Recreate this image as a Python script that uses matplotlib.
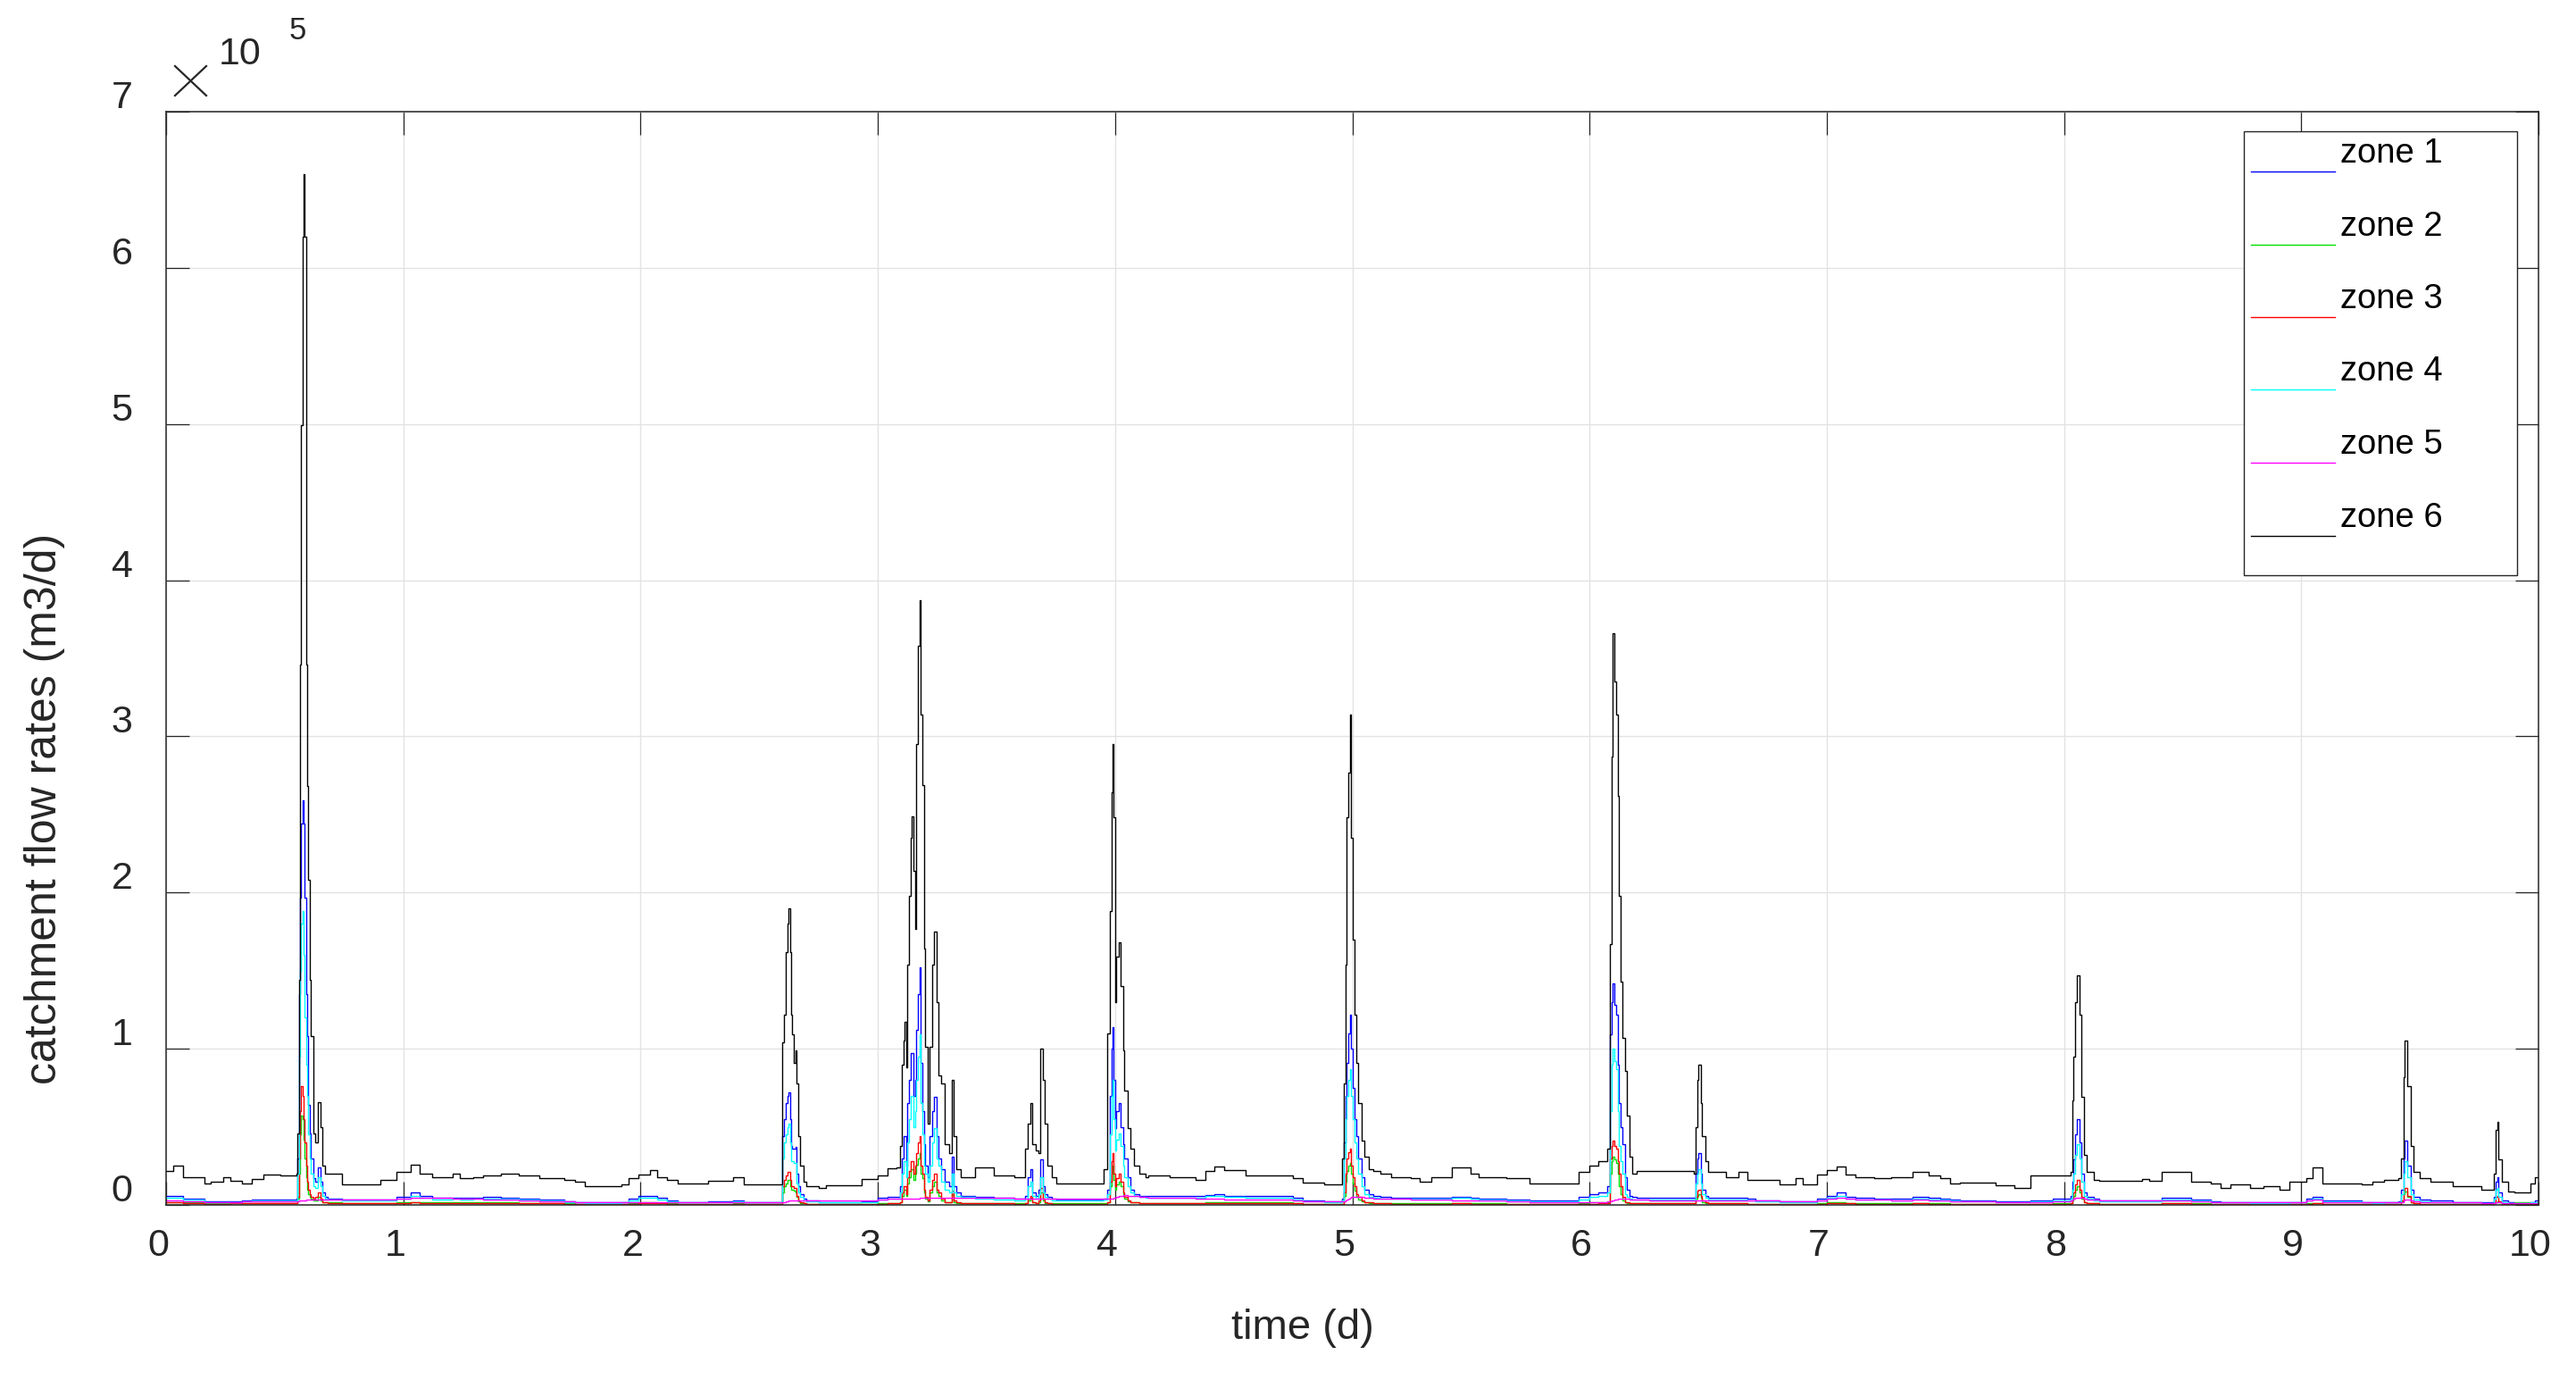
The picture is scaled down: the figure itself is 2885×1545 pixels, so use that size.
import numpy as np
import matplotlib
matplotlib.use("Agg")
import matplotlib.pyplot as plt
from matplotlib.lines import Line2D
from matplotlib.patches import Rectangle
import matplotlib.transforms as mtrans

plt.rcParams['font.family'] = ['Liberation Sans', 'DejaVu Sans']

# ---------------- data (flow rates in units of 1e5 m3/d) ----------------
SCALE = 1e5

time_d = [
    0, 0.03, 0.07, 0.16, 0.19, 0.24, 0.27, 0.32, 0.36, 0.41, 0.48,
    0.55, 0.555, 0.56, 0.565, 0.57, 0.575, 0.58, 0.585, 0.59, 0.595, 0.60, 0.605, 0.61, 0.62, 0.63, 0.64, 0.65, 0.66, 0.67, 0.68,
    0.69, 0.74, 0.905, 0.97, 1.03, 1.07, 1.12, 1.207, 1.24, 1.293, 1.336, 1.41, 1.487, 1.573, 1.68, 1.724, 1.767, 1.918, 1.95, 1.99, 2.04, 2.07, 2.11, 2.155, 2.284, 2.39, 2.435, 2.52,
    2.59, 2.597, 2.605, 2.612, 2.618, 2.624, 2.63, 2.635, 2.64, 2.645, 2.652, 2.659, 2.665, 2.674, 2.687, 2.70, 2.75,
    2.78, 2.93, 3.0, 3.04,
    3.08, 3.094, 3.10, 3.107, 3.113, 3.119, 3.125, 3.132, 3.138, 3.144, 3.15, 3.157, 3.163, 3.169, 3.175, 3.182, 3.188, 3.194, 3.20, 3.21, 3.219, 3.228, 3.238, 3.247, 3.254, 3.266, 3.282, 3.301, 3.311, 3.32, 3.332, 3.351,
    3.41, 3.49, 3.576,
    3.62, 3.633, 3.643, 3.652, 3.665, 3.677, 3.685, 3.695, 3.704, 3.714, 3.733, 3.752,
    3.927, 3.952,
    3.965, 3.977, 3.984, 3.99, 3.994, 3.999, 4.006, 4.015, 4.025, 4.034, 4.04, 4.053, 4.065, 4.078, 4.103, 4.128,
    4.14, 4.23, 4.34, 4.38, 4.42, 4.46, 4.55, 4.75, 4.79, 4.88,
    4.955, 4.964, 4.97, 4.976, 4.982, 4.989, 4.995, 5.001, 5.008, 5.018, 5.026, 5.039, 5.051, 5.07, 5.089, 5.12,
    5.164, 5.246, 5.284, 5.334, 5.42, 5.50, 5.534, 5.65, 5.748, 5.955, 5.999, 6.036, 6.074,
    6.087, 6.093, 6.097, 6.105, 6.112, 6.118, 6.124, 6.13, 6.139, 6.149, 6.156, 6.168, 6.181, 6.20, 6.25,
    6.438, 6.446, 6.453, 6.46, 6.469, 6.475, 6.488, 6.50, 6.576, 6.626, 6.664,
    6.70, 6.80, 6.87, 6.90, 6.96, 7.0, 7.04, 7.08, 7.12, 7.20, 7.27, 7.36, 7.43, 7.48, 7.52, 7.56, 7.71, 7.79, 7.86, 7.952,
    8.028, 8.034, 8.04, 8.048, 8.055, 8.065, 8.072, 8.083, 8.096, 8.124, 8.15,
    8.29, 8.33, 8.36, 8.413, 8.537, 8.62, 8.66, 8.70, 8.785, 8.84, 8.91, 8.95, 9.02, 9.047, 9.088, 9.253, 9.30, 9.35,
    9.41, 9.419, 9.43, 9.437, 9.446, 9.46, 9.474, 9.50, 9.543,
    9.64, 9.76, 9.812, 9.818, 9.825, 9.832, 9.846, 9.873, 9.90, 9.965, 9.985, 10.0,
]

zone1 = [
    0.057, 0.055, 0.04, 0.025, 0.025, 0.025, 0.025, 0.028, 0.034, 0.036, 0.036,
    0.04, 0.3, 1.35, 1.97, 2.44, 2.59, 2.44, 1.97, 1.35, 1.08, 0.64, 0.46, 0.3, 0.17, 0.15, 0.24, 0.15, 0.08, 0.05, 0.04,
    0.04, 0.035, 0.035, 0.05, 0.082, 0.06, 0.045, 0.048, 0.045, 0.048, 0.05, 0.048, 0.04, 0.035, 0.025, 0.02, 0.015, 0.02, 0.04, 0.06, 0.06, 0.045, 0.03, 0.02, 0.025, 0.03, 0.02, 0.02,
    0.02, 0.44, 0.55, 0.65, 0.7, 0.72, 0.55, 0.38, 0.36, 0.36, 0.37, 0.2, 0.12, 0.07, 0.04, 0.03, 0.02,
    0.02, 0.025, 0.045, 0.05,
    0.05, 0.12, 0.3, 0.44, 0.44, 0.25, 0.65, 0.8, 0.97, 0.97, 0.7, 0.8, 1.12, 1.35, 1.52, 0.91, 0.6, 0.39, 0.25, 0.18, 0.44, 0.6, 0.69, 0.44, 0.3, 0.23, 0.15, 0.12, 0.31, 0.12, 0.08, 0.06,
    0.05, 0.045, 0.04,
    0.06, 0.18, 0.23, 0.08, 0.06, 0.1, 0.29, 0.12, 0.07, 0.05, 0.04, 0.035,
    0.035, 0.04,
    0.1, 0.7, 1.0, 1.14, 0.8, 0.49, 0.6, 0.65, 0.5, 0.39, 0.3, 0.18, 0.1, 0.07, 0.06, 0.055,
    0.055, 0.055, 0.055, 0.065, 0.067, 0.06, 0.055, 0.045, 0.03, 0.025,
    0.04, 0.4, 0.7, 0.91, 1.1, 1.22, 1.0, 0.75, 0.55, 0.44, 0.3, 0.18, 0.1, 0.07, 0.055, 0.05,
    0.045, 0.045, 0.045, 0.045, 0.05, 0.045, 0.04, 0.035, 0.03, 0.05, 0.07, 0.08, 0.12,
    1.09, 1.3, 1.42, 1.28, 1.22, 0.9, 0.65, 0.5, 0.39, 0.18, 0.1, 0.06, 0.05, 0.045, 0.045,
    0.045, 0.2, 0.3, 0.33, 0.2, 0.1, 0.06, 0.045, 0.045, 0.045, 0.04,
    0.03, 0.025, 0.023, 0.023, 0.04, 0.057, 0.082, 0.05, 0.045, 0.04, 0.038, 0.05, 0.045, 0.04, 0.035, 0.03, 0.025, 0.023, 0.03, 0.04,
    0.06, 0.15, 0.29, 0.45, 0.55, 0.4, 0.2, 0.08, 0.05, 0.04, 0.03,
    0.03, 0.03, 0.03, 0.045, 0.035, 0.025, 0.02, 0.02, 0.018, 0.018, 0.015, 0.02, 0.04, 0.053, 0.03, 0.02, 0.018, 0.02,
    0.025, 0.1, 0.3, 0.41, 0.25, 0.1, 0.05, 0.035, 0.03,
    0.02, 0.015, 0.05, 0.15, 0.18, 0.08, 0.03, 0.015, 0.012, 0.02, 0.03, 0.03,
]

zone2 = [
    0.02, 0.02, 0.015, 0.01, 0.01, 0.01, 0.012, 0.012, 0.012, 0.012, 0.012,
    0.012, 0.04, 0.2, 0.45, 0.57, 0.55, 0.42, 0.3, 0.18, 0.1, 0.07, 0.05, 0.04, 0.03, 0.03, 0.05, 0.03, 0.02, 0.015, 0.015,
    0.015, 0.012, 0.012, 0.015, 0.02, 0.018, 0.015, 0.018, 0.015, 0.015, 0.016, 0.016, 0.014, 0.012, 0.01, 0.008, 0.006, 0.006, 0.01, 0.015, 0.015, 0.012, 0.01, 0.008, 0.008, 0.01, 0.008, 0.008,
    0.008, 0.08, 0.12, 0.14, 0.16, 0.16, 0.12, 0.1, 0.1, 0.09, 0.08, 0.05, 0.025, 0.012, 0.01, 0.008, 0.008,
    0.008, 0.008, 0.01, 0.012,
    0.012, 0.02, 0.06, 0.1, 0.1, 0.06, 0.14, 0.18, 0.23, 0.23, 0.16, 0.2, 0.26, 0.3, 0.33, 0.2, 0.17, 0.08, 0.04, 0.025, 0.08, 0.12, 0.15, 0.08, 0.06, 0.03, 0.015, 0.015, 0.07, 0.02, 0.012, 0.01,
    0.012, 0.012, 0.01,
    0.01, 0.03, 0.045, 0.015, 0.01, 0.02, 0.08, 0.03, 0.012, 0.01, 0.01, 0.01,
    0.01, 0.01,
    0.015, 0.12, 0.2, 0.25, 0.16, 0.1, 0.13, 0.15, 0.12, 0.07, 0.04, 0.025, 0.018, 0.015, 0.012, 0.012,
    0.012, 0.012, 0.012, 0.018, 0.02, 0.018, 0.015, 0.01, 0.008, 0.006,
    0.006, 0.06, 0.15, 0.22, 0.25, 0.27, 0.2, 0.14, 0.09, 0.05, 0.035, 0.025, 0.015, 0.012, 0.01, 0.01,
    0.01, 0.01, 0.01, 0.01, 0.012, 0.01, 0.01, 0.008, 0.006, 0.01, 0.015, 0.015, 0.02,
    0.2, 0.28, 0.31, 0.29, 0.27, 0.2, 0.12, 0.07, 0.03, 0.015, 0.012, 0.01, 0.01, 0.01, 0.01,
    0.01, 0.04, 0.06, 0.07, 0.045, 0.02, 0.012, 0.01, 0.01, 0.01, 0.008,
    0.008, 0.008, 0.008, 0.008, 0.012, 0.015, 0.018, 0.012, 0.01, 0.01, 0.01, 0.012, 0.01, 0.01, 0.008, 0.008, 0.006, 0.006, 0.008, 0.01,
    0.01, 0.03, 0.06, 0.1, 0.12, 0.08, 0.04, 0.015, 0.01, 0.01, 0.008,
    0.008, 0.008, 0.008, 0.012, 0.01, 0.008, 0.007, 0.007, 0.006, 0.008, 0.006, 0.006, 0.01, 0.012, 0.008, 0.006, 0.008, 0.008,
    0.008, 0.025, 0.07, 0.086, 0.05, 0.018, 0.01, 0.008, 0.008,
    0.008, 0.006, 0.01, 0.02, 0.025, 0.015, 0.01, 0.012, 0.015, 0.01, 0.012, 0.012,
]

zone3 = [
    0.015, 0.015, 0.01, 0.008, 0.008, 0.008, 0.01, 0.01, 0.01, 0.01, 0.01,
    0.01, 0.05, 0.3, 0.6, 0.76, 0.7, 0.55, 0.4, 0.25, 0.15, 0.1, 0.07, 0.05, 0.04, 0.05, 0.08, 0.04, 0.02, 0.015, 0.012,
    0.012, 0.01, 0.01, 0.012, 0.015, 0.014, 0.012, 0.013, 0.012, 0.012, 0.012, 0.012, 0.011, 0.01, 0.008, 0.007, 0.006, 0.006, 0.008, 0.01, 0.01, 0.009, 0.008, 0.007, 0.007, 0.008, 0.007, 0.007,
    0.007, 0.12, 0.16, 0.19, 0.21, 0.21, 0.16, 0.12, 0.12, 0.11, 0.11, 0.06, 0.03, 0.015, 0.01, 0.008, 0.007,
    0.007, 0.007, 0.008, 0.01,
    0.01, 0.02, 0.08, 0.12, 0.12, 0.07, 0.18, 0.22, 0.28, 0.28, 0.2, 0.25, 0.33, 0.4, 0.44, 0.25, 0.2, 0.1, 0.05, 0.03, 0.1, 0.16, 0.2, 0.1, 0.08, 0.04, 0.02, 0.02, 0.09, 0.03, 0.015, 0.01,
    0.01, 0.01, 0.008,
    0.01, 0.04, 0.06, 0.02, 0.012, 0.03, 0.11, 0.04, 0.015, 0.01, 0.008, 0.008,
    0.008, 0.008,
    0.02, 0.15, 0.28, 0.33, 0.2, 0.12, 0.17, 0.2, 0.15, 0.08, 0.05, 0.03, 0.02, 0.015, 0.012, 0.012,
    0.01, 0.01, 0.01, 0.012, 0.014, 0.013, 0.011, 0.009, 0.007, 0.006,
    0.006, 0.08, 0.2, 0.3, 0.34, 0.36, 0.25, 0.18, 0.12, 0.07, 0.05, 0.03, 0.02, 0.015, 0.012, 0.01,
    0.008, 0.008, 0.008, 0.008, 0.01, 0.008, 0.008, 0.007, 0.005, 0.006, 0.008, 0.01, 0.012,
    0.3, 0.38, 0.41, 0.38, 0.36, 0.28, 0.2, 0.12, 0.05, 0.02, 0.015, 0.012, 0.01, 0.01, 0.01,
    0.01, 0.05, 0.09, 0.1, 0.06, 0.03, 0.015, 0.01, 0.01, 0.01, 0.008,
    0.007, 0.006, 0.006, 0.006, 0.008, 0.01, 0.012, 0.01, 0.008, 0.008, 0.008, 0.01, 0.008, 0.008, 0.007, 0.006, 0.005, 0.005, 0.006, 0.008,
    0.01, 0.04, 0.08, 0.13, 0.16, 0.1, 0.05, 0.02, 0.012, 0.01, 0.008,
    0.007, 0.007, 0.007, 0.01, 0.008, 0.007, 0.006, 0.006, 0.005, 0.005, 0.005, 0.006, 0.008, 0.01, 0.006, 0.005, 0.005, 0.005,
    0.006, 0.03, 0.09, 0.11, 0.06, 0.02, 0.01, 0.008, 0.006,
    0.005, 0.004, 0.015, 0.05, 0.057, 0.025, 0.008, 0.005, 0.004, 0.006, 0.008, 0.008,
]

zone4 = [
    0.044, 0.045, 0.035, 0.02, 0.02, 0.02, 0.02, 0.025, 0.03, 0.03, 0.03,
    0.03, 0.2, 0.95, 1.5, 1.8, 1.88, 1.6, 1.2, 0.9, 0.7, 0.45, 0.3, 0.2, 0.12, 0.11, 0.18, 0.12, 0.06, 0.04, 0.035,
    0.035, 0.03, 0.03, 0.04, 0.06, 0.045, 0.035, 0.038, 0.035, 0.038, 0.04, 0.038, 0.032, 0.028, 0.02, 0.016, 0.012, 0.015, 0.03, 0.045, 0.045, 0.035, 0.025, 0.015, 0.02, 0.022, 0.015, 0.015,
    0.015, 0.3, 0.4, 0.45, 0.5, 0.52, 0.4, 0.28, 0.28, 0.27, 0.27, 0.14, 0.08, 0.05, 0.03, 0.025, 0.02,
    0.018, 0.02, 0.035, 0.04,
    0.04, 0.08, 0.2, 0.28, 0.28, 0.18, 0.4, 0.55, 0.7, 0.7, 0.5, 0.6, 0.8, 0.95, 1.09, 0.65, 0.45, 0.25, 0.2, 0.15, 0.25, 0.4, 0.49, 0.3, 0.25, 0.15, 0.1, 0.08, 0.2, 0.08, 0.06, 0.05,
    0.04, 0.035, 0.03,
    0.04, 0.12, 0.15, 0.06, 0.04, 0.07, 0.18, 0.08, 0.05, 0.04, 0.03, 0.03,
    0.03, 0.035,
    0.07, 0.45, 0.7, 0.8, 0.55, 0.35, 0.42, 0.46, 0.38, 0.25, 0.18, 0.12, 0.08, 0.06, 0.05, 0.045,
    0.045, 0.045, 0.045, 0.055, 0.058, 0.05, 0.045, 0.035, 0.025, 0.02,
    0.03, 0.3, 0.55, 0.7, 0.8, 0.87, 0.7, 0.55, 0.4, 0.3, 0.2, 0.12, 0.07, 0.05, 0.045, 0.04,
    0.04, 0.04, 0.04, 0.04, 0.045, 0.04, 0.035, 0.03, 0.025, 0.035, 0.05, 0.06, 0.08,
    0.6, 0.9, 1.0, 0.92, 0.87, 0.6, 0.38, 0.28, 0.2, 0.07, 0.05, 0.04, 0.035, 0.035, 0.035,
    0.035, 0.14, 0.2, 0.23, 0.14, 0.07, 0.045, 0.035, 0.035, 0.035, 0.03,
    0.025, 0.02, 0.018, 0.018, 0.03, 0.045, 0.06, 0.04, 0.035, 0.032, 0.03, 0.04, 0.035, 0.032, 0.028, 0.025, 0.02, 0.018, 0.022, 0.03,
    0.04, 0.1, 0.2, 0.32, 0.39, 0.3, 0.15, 0.06, 0.04, 0.03, 0.025,
    0.025, 0.025, 0.025, 0.035, 0.028, 0.02, 0.016, 0.016, 0.014, 0.014, 0.012, 0.016, 0.03, 0.04, 0.022, 0.016, 0.014, 0.016,
    0.02, 0.07, 0.2, 0.28, 0.18, 0.07, 0.035, 0.025, 0.02,
    0.015, 0.012, 0.04, 0.1, 0.11, 0.05, 0.02, 0.012, 0.01, 0.015, 0.02, 0.02,
]

zone5 = [
    0.03, 0.03, 0.025, 0.015, 0.015, 0.02, 0.02, 0.025, 0.025, 0.025, 0.025,
    0.025, 0.025, 0.026, 0.027, 0.028, 0.029, 0.03, 0.031, 0.032, 0.033, 0.034, 0.034, 0.034, 0.034, 0.034, 0.034, 0.034, 0.034, 0.034, 0.034,
    0.034, 0.034, 0.034, 0.04, 0.048, 0.048, 0.045, 0.042, 0.04, 0.038, 0.035, 0.032, 0.028, 0.025, 0.022, 0.02, 0.018, 0.016, 0.016, 0.016, 0.016, 0.016, 0.015, 0.015, 0.015, 0.015, 0.015, 0.016,
    0.016, 0.018, 0.02, 0.022, 0.024, 0.026, 0.028, 0.028, 0.03, 0.03, 0.03, 0.03, 0.03, 0.03, 0.03, 0.028, 0.028,
    0.028, 0.028, 0.035, 0.04,
    0.04, 0.04, 0.04, 0.04, 0.04, 0.04, 0.04, 0.04, 0.04, 0.04, 0.041, 0.041, 0.042, 0.042, 0.043, 0.043, 0.044, 0.044, 0.045, 0.045, 0.045, 0.045, 0.045, 0.045, 0.045, 0.045, 0.045, 0.045, 0.045, 0.045, 0.045, 0.045,
    0.045, 0.045, 0.04,
    0.04, 0.04, 0.04, 0.04, 0.04, 0.04, 0.04, 0.04, 0.04, 0.04, 0.038, 0.038,
    0.038, 0.04,
    0.04, 0.04, 0.04, 0.042, 0.045, 0.048, 0.05, 0.055, 0.06, 0.062, 0.062, 0.06, 0.058, 0.055, 0.052, 0.05,
    0.048, 0.045, 0.042, 0.04, 0.038, 0.035, 0.032, 0.028, 0.025, 0.022,
    0.022, 0.025, 0.03, 0.035, 0.04, 0.045, 0.05, 0.052, 0.052, 0.052, 0.05, 0.05, 0.048, 0.045, 0.042, 0.04,
    0.038, 0.036, 0.034, 0.032, 0.03, 0.028, 0.026, 0.024, 0.02, 0.02, 0.02, 0.02, 0.022,
    0.025, 0.028, 0.03, 0.032, 0.035, 0.038, 0.04, 0.04, 0.04, 0.04, 0.038, 0.036, 0.034, 0.032, 0.03,
    0.03, 0.03, 0.03, 0.03, 0.03, 0.03, 0.03, 0.03, 0.028, 0.028, 0.026,
    0.026, 0.025, 0.025, 0.025, 0.03, 0.04, 0.045, 0.04, 0.035, 0.032, 0.03, 0.035, 0.03, 0.028, 0.025, 0.022, 0.02, 0.018, 0.02, 0.025,
    0.03, 0.035, 0.04, 0.045, 0.045, 0.045, 0.045, 0.04, 0.035, 0.032, 0.03,
    0.028, 0.028, 0.028, 0.03, 0.025, 0.02, 0.018, 0.016, 0.015, 0.015, 0.015, 0.02, 0.03, 0.033, 0.02, 0.015, 0.015, 0.015,
    0.015, 0.02, 0.03, 0.033, 0.033, 0.03, 0.025, 0.02, 0.018,
    0.015, 0.012, 0.012, 0.015, 0.015, 0.015, 0.012, 0.01, 0.01, 0.01, 0.012, 0.012,
]

zone6 = [
    0.22, 0.25, 0.18, 0.14, 0.15, 0.18, 0.155, 0.14, 0.165, 0.195, 0.19,
    0.2, 0.46, 1.44, 3.46, 4.99, 6.2, 6.6, 6.2, 3.46, 2.68, 2.08, 1.44, 1.08, 0.46, 0.4, 0.66, 0.5, 0.25, 0.2, 0.2,
    0.2, 0.133, 0.16, 0.21, 0.26, 0.2, 0.177, 0.198, 0.171, 0.177, 0.187, 0.2, 0.187, 0.17, 0.16, 0.149, 0.118, 0.13, 0.17, 0.194, 0.225, 0.18, 0.16, 0.137, 0.156, 0.18, 0.133, 0.13,
    0.13, 1.04, 1.22, 1.62, 1.8, 1.9, 1.62, 1.22, 1.09, 0.91, 0.99, 0.78, 0.44, 0.25, 0.15, 0.12, 0.11,
    0.124, 0.166, 0.19, 0.235,
    0.24, 0.38, 0.9, 1.05, 1.17, 0.88, 1.54, 1.98, 2.35, 2.49, 2.14, 1.77, 2.95, 3.58, 3.87, 3.14, 2.69, 1.64, 1.01, 0.52, 1.01, 1.54, 1.75, 1.3, 0.83, 0.78, 0.39, 0.33, 0.8, 0.44, 0.23, 0.18,
    0.24, 0.19, 0.18,
    0.36, 0.52, 0.65, 0.39, 0.35, 0.33, 1.0, 0.8, 0.52, 0.25, 0.18, 0.14,
    0.14, 0.23,
    1.1, 1.88, 2.64, 2.95, 2.48, 1.3, 1.59, 1.68, 1.4, 0.99, 0.73, 0.49, 0.36, 0.25, 0.2, 0.18,
    0.187, 0.175, 0.16, 0.219, 0.248, 0.225, 0.19, 0.17, 0.143, 0.13,
    0.3, 0.78, 1.54, 2.48, 2.77, 3.14, 2.35, 1.7, 1.22, 0.91, 0.65, 0.41, 0.31, 0.23, 0.22, 0.2,
    0.18, 0.17, 0.15, 0.18, 0.24, 0.2, 0.18, 0.17, 0.14, 0.21, 0.25, 0.28, 0.36,
    1.67, 2.87, 3.66, 3.35, 3.14, 2.62, 1.98, 1.43, 1.07, 0.86, 0.57, 0.31, 0.2, 0.22, 0.22,
    0.2, 0.5, 0.8, 0.9, 0.65, 0.44, 0.28, 0.21, 0.18, 0.213, 0.162,
    0.162, 0.13, 0.17, 0.13, 0.194, 0.225, 0.248, 0.194, 0.175, 0.17, 0.18, 0.213, 0.19, 0.17, 0.137, 0.143, 0.124, 0.11, 0.187, 0.19,
    0.21, 0.67, 0.95, 1.3, 1.47, 1.22, 0.69, 0.32, 0.21, 0.16, 0.156,
    0.156, 0.165, 0.156, 0.21, 0.15, 0.14, 0.11, 0.13, 0.11, 0.12, 0.1, 0.15, 0.17, 0.24, 0.14, 0.13, 0.15, 0.16,
    0.17, 0.3, 0.82, 1.05, 0.76, 0.38, 0.21, 0.17, 0.15,
    0.12, 0.095, 0.2, 0.48, 0.53, 0.29, 0.15, 0.086, 0.08, 0.14, 0.18, 0.18,
]

zone_names = ['zone 1', 'zone 2', 'zone 3', 'zone 4', 'zone 5', 'zone 6']
zone_colors = ['#0000ff', '#00e000', '#ff0000', '#00ffff', '#ff00ff', '#000000']
x_ticks = [0, 1, 2, 3, 4, 5, 6, 7, 8, 9, 10]
y_ticks = [0, 1, 2, 3, 4, 5, 6, 7]
zones = [zone1, zone2, zone3, zone4, zone5, zone6]
for z in zones:
    assert len(z) == len(time_d), (len(z), len(time_d))

# ---------------- figure ----------------
W, H = 2885, 1545
fig = plt.figure(figsize=(W / 100, H / 100), dpi=100)


def fx(x):
    return x / W


def fy(y):
    return 1 - y / H


ax = fig.add_axes([fx(186), fy(1349), (2843 - 186) / W, (1349 - 125) / H])

t = np.asarray(time_d)
for z, c in zip(zones, zone_colors):
    ax.plot(t, np.asarray(z) * SCALE, color=c, lw=1.0, drawstyle='steps-post')

ax.set_xlim(0, 10)
ax.set_ylim(0, 7 * SCALE)
ax.set_xticks(x_ticks)
ax.set_xticklabels([str(v) for v in x_ticks])
ax.set_yticks(np.asarray(y_ticks) * SCALE)
ax.set_yticklabels([str(v) for v in y_ticks])

ax.grid(True, color='#e3e3e3', lw=1.0)
ax.set_axisbelow(True)
for s in ax.spines.values():
    s.set_color('#262626')
    s.set_linewidth(1.1)

ax.tick_params(axis='both', direction='in', length=19, width=0.9, top=True, right=True,
               colors='#262626', labelsize=31)
ax.tick_params(axis='x', pad=19)
ax.tick_params(axis='y', pad=27)

xoff = mtrans.ScaledTranslation(-9 / 100, 0, fig.dpi_scale_trans)
for lab in ax.get_xticklabels():
    lab.set_transform(lab.get_transform() + xoff)
yoff = mtrans.ScaledTranslation(0, 4 / 100, fig.dpi_scale_trans)
for lab in ax.get_yticklabels():
    lab.set_va('baseline')
    lab.set_transform(lab.get_transform() + yoff)

# exponent marker (x 10^5): thin multiplication cross drawn as two strokes
for (xa, ya, xb, yb) in [(196, 74, 231, 107), (196, 107, 231, 74)]:
    fig.add_artist(Line2D([fx(xa), fx(xb)], [fy(ya), fy(yb)], transform=fig.transFigure,
                          color='#262626', lw=1.6))
fig.text(fx(269), fy(61), '10', ha='center', va='center', size=31, color='#262626')
fig.text(fx(333), fy(35), '5', ha='center', va='center', size=25, color='#262626')

# axis labels
fig.text(fx(1459), fy(1487), 'time (d)', ha='center', va='center', size=34, color='#262626')
fig.text(fx(50), fy(905), 'catchment flow rates (m3/d)', ha='center', va='center',
         rotation=90, size=36, color='#262626')

# legend (drawn manually to match layout)
fig.add_artist(Rectangle((fx(2513), fy(644)), (2819 - 2513) / W, (644 - 147) / H,
                         transform=fig.transFigure, facecolor='white', edgecolor='#262626',
                         lw=1.0, zorder=5))
for i, (name, c) in enumerate(zip(zone_names, zone_colors)):
    yl = 192 + i * 81.5
    yt = 172 + i * 81.5
    fig.add_artist(Line2D([fx(2521), fx(2615)], [fy(yl), fy(yl)], transform=fig.transFigure,
                          color=c, lw=1.0, zorder=6))
    fig.text(fx(2621), fy(yt), name, ha='left', va='center', size=27.5, color='black', zorder=7)

fig.savefig('out.png', dpi=100)
